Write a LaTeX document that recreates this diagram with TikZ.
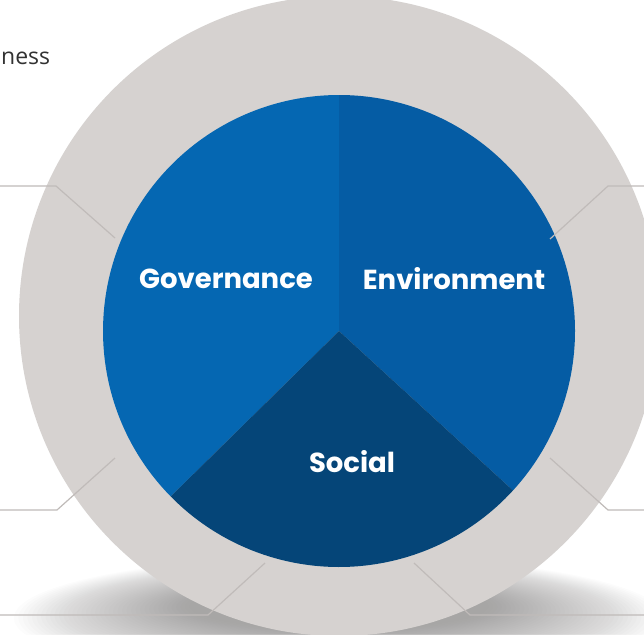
\documentclass[tikz,border=0pt]{standalone}
\usepackage{fontspec}
\setmainfont{Liberation Sans}
\newfontfamily\labelfont{Poppins}
\newfontfamily\bodyfont{Open Sans}

\definecolor{ringgray}{RGB}{214,210,208}
\definecolor{govblue}{RGB}{5,103,178}
\definecolor{envblue}{RGB}{5,92,164}
\definecolor{socblue}{RGB}{5,69,120}
\definecolor{leadgray}{RGB}{192,187,185}
\definecolor{shadowgray}{RGB}{120,118,117}
\definecolor{inkgray}{RGB}{50,50,50}

\tikzset{
  sectorlabel/.style={text=white, font=\labelfont\bfseries\fontsize{27.5}{30}\selectfont, inner sep=0pt},
  leader/.style={draw=leadgray, line width=1.2pt, line join=miter},
}

\begin{document}
\begin{tikzpicture}[x=1pt, y=-1pt]
  \useasboundingbox (0,0) rectangle (644,634);
  \fill[white] (0,0) rectangle (644,634);

  % soft drop shadow under the disc, built from stacked translucent ellipses
  \foreach \k in {0,...,39} {
    \fill[shadowgray, opacity=0.018]
      (339,{618-0.3*\k}) ellipse ({325-4.5*\k} and {62-1.0*\k});
  }

  % outer ring
  \fill[ringgray] (339,316) circle (320);

  % pie centre
  \coordinate (c) at (339,331);

  % three sectors
  \fill[govblue] (c) -- ++(135.5:236) arc[start angle=135.5, end angle=270, radius=236] -- cycle;
  \fill[envblue] (c) -- ++(-90:236) arc[start angle=-90, end angle=42.5, radius=236] -- cycle;
  \fill[socblue] (c) -- ++(42.5:236) arc[start angle=42.5, end angle=135.5, radius=236] -- cycle;

  % labels
  \node[sectorlabel] (gov) at (226,279) {Governance};
  \node[sectorlabel] (env) at (454,279) {Environment};
  \node[sectorlabel] (soc) at (352,462) {Social};

  \node[anchor=west, inner sep=0pt, text=inkgray, font=\bodyfont\fontsize{23}{25}\selectfont] (head) at (1,58) {ness};

  % leader line anchor points
  \coordinate (ul0) at (0,186);   \coordinate (ul1) at (56,186);  \coordinate (ul2) at (115,238);
  \coordinate (ur0) at (644,186); \coordinate (ur1) at (608,186); \coordinate (ur2) at (550,239);
  \coordinate (ll0) at (0,510);   \coordinate (ll1) at (57,510);  \coordinate (ll2) at (115,458);
  \coordinate (lr0) at (644,510); \coordinate (lr1) at (608,510); \coordinate (lr2) at (550,458);
  \coordinate (bl0) at (0,615);   \coordinate (bl1) at (208,615); \coordinate (bl2) at (265,563);
  \coordinate (br0) at (644,615); \coordinate (br1) at (470,615); \coordinate (br2) at (414,563);

  \draw[leader] (ul0) -- (ul1) -- (ul2);
  \draw[leader] (ur0) -- (ur1) -- (ur2);
  \draw[leader] (ll0) -- (ll1) -- (ll2);
  \draw[leader] (lr0) -- (lr1) -- (lr2);
  \draw[leader] (bl0) -- (bl1) -- (bl2);
  \draw[leader] (br0) -- (br1) -- (br2);
\end{tikzpicture}
\end{document}
